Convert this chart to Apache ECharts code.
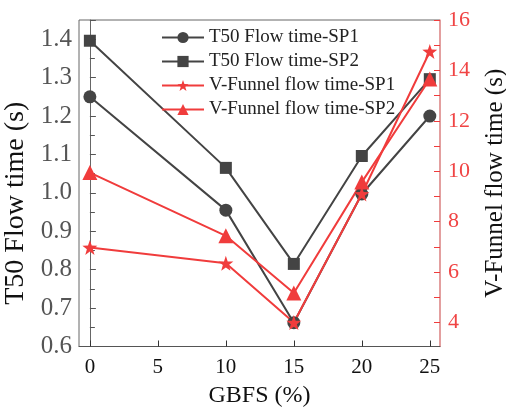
<!DOCTYPE html>
<html><head><meta charset="utf-8">
<script src="https://cdn.jsdelivr.net/npm/echarts@6/dist/echarts.min.js"></script>
<style>html,body{margin:0;padding:0;background:#fff}#c{width:506px;height:408px}</style>
</head><body><div id="c"></div>
<script>
const gbfs = [0, 10, 15, 20, 25];
const t50SP1 = [1.25, 0.955, 0.662, 0.997, 1.2];
const t50SP2 = [1.396, 1.065, 0.815, 1.096, 1.296];
const vfSP1 = [6.98, 6.35, 4.0, 9.1, 14.75];
const vfSP2 = [9.95, 7.44, 5.17, 9.57, 13.66];
const xTicks = [0, 5, 10, 15, 20, 25];
const rightLabels = [4, 6, 8, 10, 12, 14, 16];
const rightTicks = [4, 5, 6, 7, 8, 9, 10, 11, 12, 13, 14, 15, 16];

const FONT = 'Liberation Serif';
const GRAY = '#444';
const RED = '#f03c3c';
const pairs = (ys) => gbfs.map((x, i) => [x, ys[i]]);

const chart = echarts.init(document.getElementById('c'));
chart.setOption({
  animation: false,
  textStyle: {fontFamily: FONT},
  grid: {left: 79, right: 66, top: 20, bottom: 61.5, show: true, borderColor: '#666', borderWidth: 1,
    containLabel: false, outerBoundsMode: 'none'},
  legend: {
    orient: 'vertical', left: 156, top: 23, itemWidth: 42, itemHeight: 14, itemGap: 5,
    textStyle: {fontFamily: FONT, fontSize: 19, color: '#222'},
    data: ['T50 Flow time-SP1', 'T50 Flow time-SP2', 'V-Funnel flow time-SP1', 'V-Funnel flow time-SP2']
  },
  xAxis: {
    type: 'value', min: -0.8, max: 25.75,
    name: 'GBFS (%)', nameLocation: 'middle', nameGap: 37,
    nameTextStyle: {fontFamily: FONT, fontSize: 24, color: '#111'},
    axisLine: {lineStyle: {color: '#555'}},
    axisTick: {inside: true, length: 6, lineStyle: {color: '#333'}, customValues: xTicks},
    axisLabel: {fontFamily: FONT, fontSize: 21, color: '#111', margin: 10, customValues: xTicks},
    splitLine: {show: false}
  },
  yAxis: [{
    type: 'value', min: 0.6, max: 1.45, interval: 0.1,
    name: 'T50 Flow time (s)', nameLocation: 'middle', nameGap: 46,
    nameTextStyle: {fontFamily: FONT, fontSize: 28, color: '#111', padding: [0, 40, 0, 0]},
    axisLine: {show: true, lineStyle: {color: '#666'}},
    axisTick: {inside: true, length: 6, lineStyle: {color: '#555'}},
    minorTick: {show: true, splitNumber: 2, length: 5, lineStyle: {color: '#555'}},
    axisLabel: {fontFamily: FONT, fontSize: 25, color: '#555', margin: 7,
      formatter: v => (v > 1.44 ? '' : v.toFixed(1))},
    splitLine: {show: false}
  }, {
    type: 'value', min: 3.05, max: 16, position: 'right',
    name: 'V-Funnel flow time (s)', nameLocation: 'middle', nameGap: 43, nameRotate: 90,
    nameTextStyle: {fontFamily: FONT, fontSize: 25, color: '#111'},
    axisLine: {show: true, lineStyle: {color: '#f59a9a', width: 1.5}},
    axisTick: {inside: true, length: 6, lineStyle: {color: '#f03c3c'}, customValues: rightTicks},
    axisLabel: {fontFamily: FONT, fontSize: 22, color: '#f04444', margin: 8, customValues: rightLabels},
    splitLine: {show: false}
  }],
  series: [
    {name: 'T50 Flow time-SP1', type: 'line', yAxisIndex: 0, data: pairs(t50SP1),
      symbol: 'circle', symbolSize: 13, lineStyle: {color: GRAY, width: 2}, itemStyle: {color: GRAY}},
    {name: 'T50 Flow time-SP2', type: 'line', yAxisIndex: 0, data: pairs(t50SP2),
      symbol: 'rect', symbolSize: 12, lineStyle: {color: GRAY, width: 2}, itemStyle: {color: GRAY}},
    {name: 'V-Funnel flow time-SP1', type: 'line', yAxisIndex: 1, data: pairs(vfSP1),
      symbol: 'path://M0,-10L2.35,-3.24L9.51,-3.09L3.8,1.24L5.88,8.09L0,4L-5.88,8.09L-3.8,1.24L-9.51,-3.09L-2.35,-3.24Z',
      symbolSize: 15, lineStyle: {color: RED, width: 2}, itemStyle: {color: RED}},
    {name: 'V-Funnel flow time-SP2', type: 'line', yAxisIndex: 1, data: pairs(vfSP2),
      symbol: 'triangle', symbolSize: 15, lineStyle: {color: RED, width: 2}, itemStyle: {color: RED}}
  ]
});
</script></body></html>
